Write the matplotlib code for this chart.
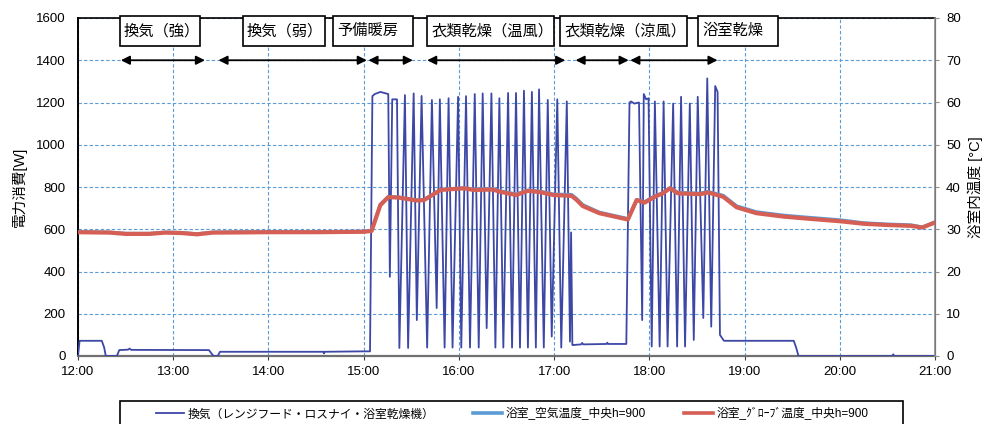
import matplotlib
matplotlib.use('Agg')
import matplotlib.pyplot as plt
from matplotlib.patches import Rectangle
from matplotlib.lines import Line2D

plt.rcParams['font.family'] = ['Liberation Sans', 'Noto Sans CJK JP', 'DejaVu Sans']

# time axis: minutes after 12:00
hour_labels = ['12:00', '13:00', '14:00', '15:00', '16:00', '17:00', '18:00', '19:00', '20:00', '21:00']

# ventilation / dryer power [W]
power_t = [0, 1, 15, 16.5, 17.5, 24.5, 26, 31.5, 32.5, 33.5, 82.5, 84.5, 85.5, 88, 89.5,
           154.5, 155, 155.5, 179.5, 184,
           185.5, 187, 190.5, 193, 195.5, 196.5, 198, 201, 202.5, 206, 208, 211.5, 213.5, 216.5,
           220, 223, 226, 228, 231, 233.5, 236, 239.5, 241.5, 244.5, 247, 250, 252.5, 255,
           257.5, 260.5, 263, 265.5, 268, 271, 273.5, 276, 278.5, 281, 283.5, 286, 288.5, 290.5,
           293.5, 296, 298.5, 302, 304.5, 308, 310, 310.7, 311.5, 312, 317, 317.7, 318.3,
           333, 333.5, 334, 345.5,
           347.5, 348.5, 350.5, 353.5, 355.5, 356.5, 358, 359.5, 361.5, 363.5, 366.5, 369,
           371.5, 375, 377.5, 380, 382.5, 385.5, 388, 390.5, 394, 396.5, 399, 401.5, 403,
           404.5, 407, 451, 452.5, 454, 513, 513.7, 514.3, 540]
power_w = [0, 72, 72, 40, 0, 0, 28, 30, 35, 29, 28, 8, 0, 0, 20,
           20, 12, 20, 22, 22,
           1230, 1240, 1250, 1245, 1240, 375, 1215, 1215, 38, 1235, 38, 1243, 170, 1231,
           40, 1212, 227, 1215, 40, 1220, 40, 1227, 40, 1230, 40, 1240, 40, 1243,
           132, 1243, 40, 1220, 40, 1245, 40, 1245, 40, 1256, 40, 1250, 40, 1262,
           40, 1212, 92, 1215, 40, 1205, 68, 585, 52, 52, 55, 62, 55,
           57, 63, 57, 57,
           1200, 1205, 1195, 1200, 170, 1240, 1215, 1220, 45, 1205, 45, 1205,
           45, 1195, 45, 1227, 45, 1195, 76, 1227, 180, 1314, 139, 1278, 1250,
           100, 72, 72, 40, 0, 0, 8, 0, 0]

# bathroom temperatures [degC]
temp_t = [0, 20, 30, 45, 55, 65, 75, 85, 120, 150,
          180, 185, 190.5, 195.5, 202, 213.5, 218, 228.5, 243.5, 249,
          261.5, 265.5, 276, 283.5, 291, 299.5, 311, 314, 318, 328.5,
          346.5, 352, 357, 363.5, 368.5, 373, 378, 392, 397, 406.5,
          415, 427.5, 444.5, 460, 480, 495, 510, 525, 532, 540]
air_c = [29.4, 29.3, 29.0, 29.0, 29.3, 29.2, 28.9, 29.3, 29.4, 29.4,
         29.5, 29.7, 35.9, 37.7, 37.6, 36.9, 37.0, 39.4, 39.8, 39.5,
         39.6, 39.1, 38.3, 39.2, 39.0, 38.3, 38.2, 37.3, 35.8, 34.0,
         32.5, 37.0, 36.5, 37.9, 38.6, 39.8, 38.7, 38.5, 38.9, 38.0,
         35.5, 34.1, 33.3, 32.8, 32.2, 31.5, 31.2, 31.0, 30.5, 31.7]
globe_c = [29.3, 29.2, 28.9, 28.9, 29.2, 29.1, 28.8, 29.2, 29.3, 29.3,
           29.4, 29.6, 35.7, 37.6, 37.5, 36.8, 36.9, 39.3, 39.7, 39.3,
           39.4, 38.9, 38.1, 39.1, 38.8, 38.1, 37.9, 37.0, 35.5, 33.8,
           32.3, 36.9, 36.3, 37.7, 38.5, 39.7, 38.5, 38.3, 38.7, 37.7,
           35.2, 33.8, 33.0, 32.5, 31.9, 31.3, 31.0, 30.8, 30.4, 31.6]

# operating modes: label, arrow start/end (minutes)
mode_labels = ['換気（強）', '換気（弱）', '予備暖房', '衣類乾燥（温風）', '衣類乾燥（涼風）', '浴室乾燥']
mode_start = [27, 88.5, 183, 220, 313.5, 348]
mode_end = [80, 182, 211, 307, 347, 403]
box_left = [26.5, 104, 160.7, 220, 303.8, 390.8]
box_width = [50.4, 51.7, 50.5, 80, 80.1, 50.4]

series_labels = ['換気（レンジフード・ロスナイ・浴室乾燥機）', '浴室_空気温度_中央h=900', '浴室_ｸﾞﾛｰﾌﾞ温度_中央h=900']
c_power = '#3D47A6'
c_air = '#5B9BD5'
c_globe = '#D65F55'
c_grid = '#5B9BD5'

fig = plt.figure(figsize=(9.87, 4.24), dpi=100)
ax = fig.add_axes([78 / 987, 1 - 356 / 424, 857 / 987, 338 / 424])
ax2 = ax.twinx()

ax.plot(power_t, power_w, color=c_power, lw=1.3, zorder=3)
ax2.plot(temp_t, air_c, color=c_air, lw=2.4, zorder=3)
ax2.plot(temp_t, globe_c, color=c_globe, lw=3.0, zorder=4)

ax.set_xlim(0, 540)
ax.set_ylim(0, 1600)
ax2.set_ylim(0, 80)
ax.set_xticks(range(0, 541, 60))
ax.set_xticklabels(hour_labels)
ax.set_yticks(range(0, 1601, 200))
ax2.set_yticks(range(0, 81, 10))

ax.set_axisbelow(True)
ax.grid(True, color=c_grid, linestyle=(0, (3, 2)), lw=0.8)

ax.tick_params(axis='y', length=0, pad=9, labelsize=9.5)
ax.tick_params(axis='x', length=3, direction='out', pad=4.5, labelsize=9.5, color='#404040')
ax2.tick_params(axis='y', length=3, direction='out', pad=5, labelsize=9.5, color='#909090')

ax.spines['left'].set_linewidth(1.4)
ax.spines['top'].set_linewidth(1.2)
ax.spines['bottom'].set_color('#707070')
ax.spines['bottom'].set_linewidth(1.6)
ax2.spines['right'].set_color('#909090')
ax2.spines['right'].set_linewidth(1.2)
for s in ['left', 'top', 'bottom']:
    ax2.spines[s].set_visible(False)

ax.set_ylabel('電力消費[W]', fontsize=10.5)
ax.yaxis.set_label_coords(-0.0595, 0.5)
ax2.set_ylabel('浴室内温度 [°C]', fontsize=10.5)
ax2.yaxis.set_label_coords(1.0385, 0.5)

# mode labels and duration arrows
for lab, x0, w in zip(mode_labels, box_left, box_width):
    ax.add_patch(Rectangle((x0, 1467), w, 142.5, facecolor='white', edgecolor='black',
                           lw=1.2, clip_on=False, zorder=6))
    ax.text(x0 + 2.5, 1538, lab, fontsize=11, ha='left', va='center', zorder=7, clip_on=False)
for a, b in zip(mode_start, mode_end):
    ax.annotate('', xy=(b, 1400), xytext=(a, 1400),
                arrowprops=dict(arrowstyle='<|-|>', color='black', lw=1.3,
                                mutation_scale=13, shrinkA=0, shrinkB=0), zorder=6)

# legend below the plot
fig.patches.append(Rectangle((120 / 987, -0.02), 783 / 987, 0.02 + 23 / 424,
                             transform=fig.transFigure, facecolor='white',
                             edgecolor='black', lw=1.2))
handles = [Line2D([], [], color=c_power, lw=1.3),
           Line2D([], [], color=c_air, lw=2.6),
           Line2D([], [], color=c_globe, lw=2.6)]
fig.legend(handles, series_labels, loc='center', bbox_to_anchor=(512 / 987, 1 - 414 / 424),
           ncol=3, frameon=False, fontsize=8.5, handlelength=2.4, handletextpad=0.3,
           columnspacing=3.3, borderaxespad=0, borderpad=0)

fig.savefig('out.png', dpi=100)
